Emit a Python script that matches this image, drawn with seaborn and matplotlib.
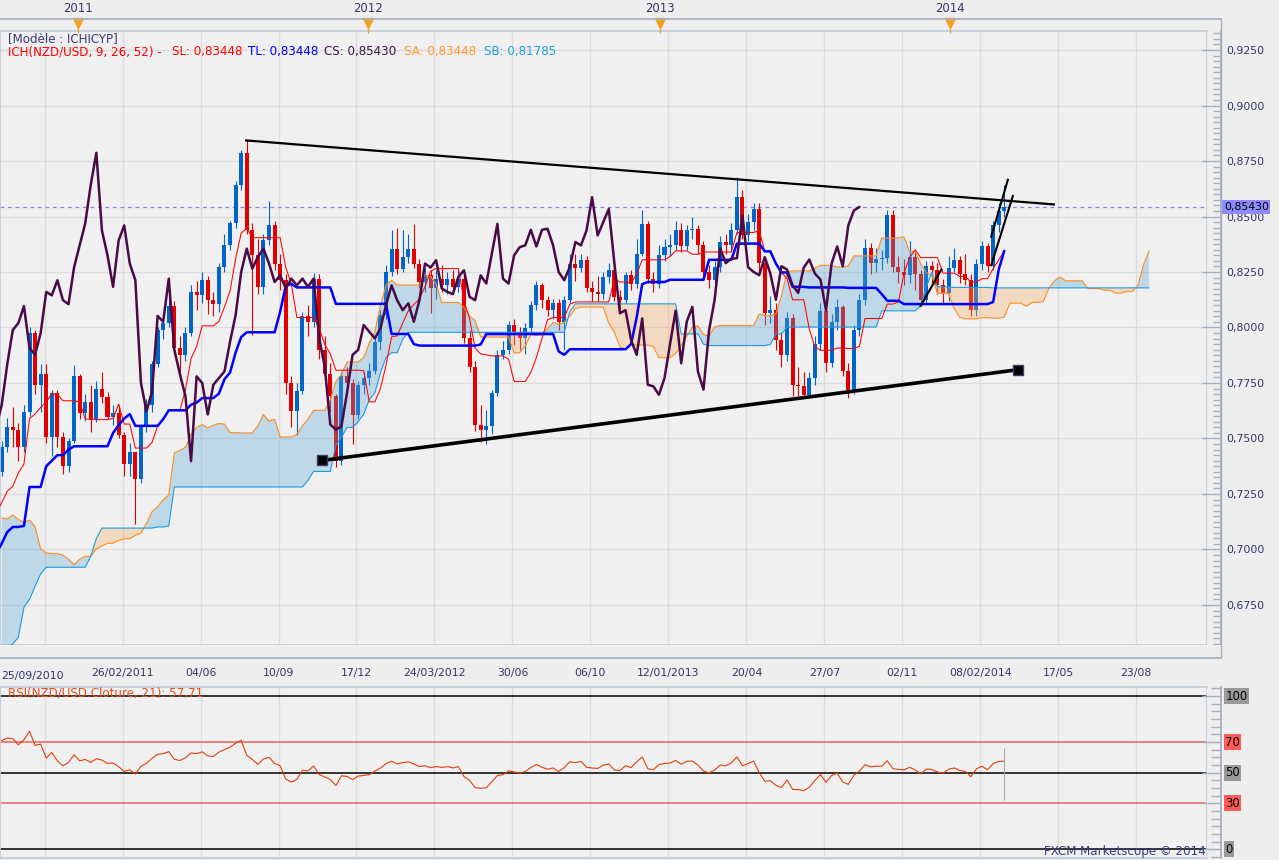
import numpy as np
import pandas as pd
import matplotlib
matplotlib.use("Agg")
import matplotlib.pyplot as plt
import seaborn as sns
from matplotlib.lines import Line2D
from matplotlib.ticker import MultipleLocator, FuncFormatter
from matplotlib.transforms import blended_transform_factory

# weekly NZD/USD candles, the first one is the week of 25/09/2010
close = [
    .7460, .7550, .7540, .7460, .7620, .7975, .7740, .7790, .7505, .7706,
    .7505, .7375, .7487, .7780, .7617, .7666, .7585, .7724, .7688, .7599,
    .7614, .7518, .7383, .7437, .7316, .7550, .7650, .7834, .7989, .8020,
    .8096, .7908, .7877, .7975, .8160, .8145, .8213, .8123, .8105, .8271,
    .8370, .8469, .8644, .8787, .8437, .8325, .8183, .8392, .8460, .8288,
    .8213, .7751, .7622, .7712, .8052, .8026, .8220, .7900, .7790, .7690,
    .7398, .7780, .7750, .7608, .7742, .7772, .7802, .7936, .8056, .8250,
    .8355, .8265, .8318, .8355, .8288, .8205, .8235, .8176, .8220, .8190,
    .8220, .8183, .8220, .7951, .7824, .7563, .7540, .7555, .7705, .7877,
    .7899, .8011, .7981, .7951, .7996, .8101, .8190, .8123, .8078, .8109,
    .8026, .8123, .8288, .8270, .8303, .8176, .8161, .8150, .8228, .8258,
    .8138, .8123, .8235, .8198, .8333, .8467, .8220, .8198, .8325, .8362,
    .8370, .8440, .8365, .8440, .8445, .8370, .8250, .8213, .8273, .8385,
    .8370, .8437, .8587, .8415, .8475, .8534, .8290, .8064, .8078, .7944,
    .7877, .8041, .7742, .7735, .7697, .7772, .7926, .8076, .7839, .8027,
    .8093, .7802, .7720, .7987, .8125, .8356, .8290, .8310, .8312, .8505,
    .8272, .8250, .8236, .8317, .8243, .8125, .8276, .8261, .8190, .8156,
    .8270, .8306, .8243, .8216, .8078, .8288, .8365, .8276, .8460, .8527,
    .8543,
]
high = [
    .7490, .7594, .7640, .7570, .7650, .8000, .7990, .7835, .7835, .7720,
    .7720, .7530, .7500, .7830, .7790, .7700, .7740, .7760, .7800, .7710,
    .7650, .7650, .7530, .7480, .7440, .7560, .7680, .7850, .8000, .8060,
    .8140, .8120, .7960, .8000, .8190, .8210, .8250, .8230, .8160, .8290,
    .8420, .8480, .8660, .8800, .8843, .8470, .8400, .8420, .8572, .8480,
    .8330, .8240, .7780, .7750, .8070, .8100, .8245, .8240, .7960, .7840,
    .7700, .7800, .7820, .7770, .7760, .7800, .7840, .7960, .8080, .8280,
    .8440, .8450, .8440, .8420, .8467, .8310, .8270, .8260, .8260, .8280,
    .8250, .8260, .8270, .8240, .7990, .7850, .7650, .7630, .7720, .7900,
    .7940, .8030, .8040, .8000, .8020, .8120, .8210, .8200, .8140, .8130,
    .8130, .8140, .8330, .8330, .8330, .8320, .8210, .8230, .8250, .8290,
    .8270, .8170, .8250, .8260, .8400, .8530, .8480, .8250, .8370, .8400,
    .8420, .8480, .8470, .8460, .8500, .8460, .8390, .8280, .8300, .8410,
    .8420, .8470, .8676, .8620, .8510, .8560, .8560, .8300, .8140, .8110,
    .7980, .8070, .8060, .7820, .7800, .7800, .7960, .8110, .8090, .8060,
    .8130, .8100, .7840, .8010, .8150, .8400, .8380, .8360, .8350, .8530,
    .8530, .8320, .8310, .8390, .8340, .8260, .8300, .8300, .8290, .8220,
    .8320, .8360, .8320, .8330, .8240, .8310, .8390, .8380, .8480, .8560,
    .8640,
]
low = [
    .7330, .7437, .7460, .7400, .7440, .7600, .7700, .7620, .7480, .7422,
    .7460, .7340, .7350, .7480, .7590, .7580, .7530, .7575, .7660, .7590,
    .7560, .7500, .7330, .7330, .7114, .7300, .7530, .7620, .7820, .7950,
    .8000, .7880, .7765, .7850, .7960, .8080, .8110, .8060, .8050, .8070,
    .8250, .8350, .8450, .8620, .8420, .7966, .8150, .8151, .8370, .8260,
    .8170, .7700, .7550, .7518, .7700, .7960, .8000, .7860, .7760, .7620,
    .7370, .7380, .7700, .7475, .7590, .7700, .7740, .7790, .7900, .8040,
    .8230, .8240, .8250, .8290, .8270, .8180, .8160, .8064, .8130, .8160,
    .8150, .8150, .8160, .7930, .7800, .7533, .7482, .7474, .7520, .7690,
    .7860, .7880, .7920, .7900, .7880, .7980, .8080, .8090, .8050, .8040,
    .7990, .7900, .8110, .8210, .8250, .8160, .8120, .8120, .8130, .8200,
    .8120, .8080, .8110, .8170, .8180, .8320, .8200, .8160, .8180, .8300,
    .8320, .8350, .8340, .8350, .8400, .8330, .8220, .8180, .8200, .8250,
    .8330, .8350, .8420, .8400, .8390, .8440, .8250, .8010, .8020, .7900,
    .7820, .7850, .7690, .7690, .7690, .7685, .7740, .7900, .7800, .7820,
    .7990, .7780, .7681, .7700, .7960, .8100, .8240, .8250, .8260, .8290,
    .8250, .8200, .8190, .8200, .8170, .8100, .8110, .8200, .8150, .8110,
    .8120, .8250, .8200, .8190, .8050, .8050, .8260, .8250, .8260, .8430,
    .8500,
]

# the 77 weeks before the first candle, only used to warm up the ichimoku lines
pre_high = [
    .575, .580, .575, .590, .600, .615, .625, .640, .650, .655,
    .660, .652, .650, .648, .645, .640, .655, .668, .672, .685,
    .690, .692, .698, .705, .712, .720, .725, .745, .763, .755,
    .745, .742, .735, .745, .746, .742, .735, .730, .725, .730,
    .738, .745, .740, .730, .712, .708, .705, .702, .712, .718,
    .722, .720, .728, .735, .732, .725, .715, .705, .695, .705,
    .700, .705, .710, .708, .712, .725, .730, .735, .732, .728,
    .722, .715, .722, .728, .735, .738, .740,
]
pre_low = [
    .545, .548, .552, .558, .585, .592, .604, .615, .628, .632,
    .635, .625, .628, .624, .622, .621, .631, .647, .658, .662,
    .668, .670, .675, .682, .690, .698, .705, .715, .735, .725,
    .720, .712, .705, .718, .722, .715, .702, .700, .700, .705,
    .715, .725, .715, .700, .690, .685, .682, .686, .690, .698,
    .702, .705, .710, .712, .708, .700, .690, .680, .660, .6563,
    .675, .680, .690, .685, .690, .700, .710, .715, .712, .705,
    .700, .693, .705, .712, .718, .722, .728,
]
# closes of the 26 weeks before the first candle (rsi warm-up)
pre_close = [
    .7150, .7200, .7270, .7150, .7050, .6950, .6850, .6700, .6900, .6830,
    .6950, .6980, .6920, .7050, .7200, .7250, .7270, .7150, .7080, .7020,
    .7100, .7180, .7250, .7300, .7330, .7350,
]

date_weeks = [8, 22, 36, 50, 64, 78, 92, 106, 120, 134, 148, 162, 176, 190, 204]
date_labels = ['', '26/02/2011', '04/06', '10/09', '17/12', '24/03/2012', '30/06',
               '06/10', '12/01/2013', '20/04', '27/07', '02/11', '08/02/2014',
               '17/05', '23/08']
year_weeks = [14.0, 66.14, 118.43, 170.57]
year_labels = ['2011', '2012', '2013', '2014']
price_levels = [0.675, 0.700, 0.725, 0.750, 0.775, 0.800, 0.825, 0.850,
                0.875, 0.900, 0.925]
rsi_levels = [100, 70, 50, 30, 0]

# hand drawn lines on the chart: (week, price) -> (week, price)
trend_lines = [
    ((44.0, 0.8843), (189.4, 0.8554)),
    ((57.8, 0.7401), (182.8, 0.7810)),
    ((165.2, 0.8093), (169.1, 0.8265)),
    ((177.9, 0.8404), (181.0, 0.8670)),
    ((177.9, 0.8276), (181.9, 0.8597)),
]
trend_widths = [1.6, 2.6, 1.5, 1.5, 1.5]

sns.set_theme(style="white", rc={"axes.facecolor": "#F0F0F0",
                                 "figure.facecolor": "#EEEEEE"})
plt.rcParams['font.family'] = ['DejaVu Sans']

W, H = 1279, 860
WPX = 5.57                 # pixels per week
OFF = 0.3                  # candle position inside its week
Y_TOP, Y_BOT = 0.93356, 0.65698
R_TOP, R_BOT = 105.9, -5.7
UP, DOWN = '#0064C8', '#E00000'
FRAME = '#C3CCD8'
TICK = '#A4AFBF'
TXT = '#33336B'
GRID = '#DCDCDC'
BG = '#EEEEEE'
HEAD = 8.6

fig = plt.figure(figsize=(W / 100, H / 100), dpi=100)


def box(x0, y0, x1, y1):
    return [x0 / W, 1 - y1 / H, (x1 - x0) / W, (y1 - y0) / H]


def ptext(x, y, s, **kw):
    return fig.text(x / W, 1 - y / H, s, va='center', **kw)


def line(axis, x, y, color, lw, z):
    d = pd.DataFrame({'x': x, 'y': y}).dropna()
    sns.lineplot(data=d, x='x', y='y', ax=axis, color=color, linewidth=lw,
                 zorder=z, estimator=None, sort=False, legend=False)
    axis.set_xlabel('')
    axis.set_ylabel('')


n = len(close)
n_pre = len(pre_high)
opens = [pre_close[-1]] + close[:-1]
df = pd.DataFrame({'x': np.arange(n) + OFF, 'open': opens, 'high': high,
                   'low': low, 'close': close})

# ichimoku 9 / 26 / 52
hi = pd.Series(pre_high + high)
lo = pd.Series(pre_low + low)
wk = np.arange(-n_pre, n) + OFF
tenkan = (hi.rolling(9).max() + lo.rolling(9).min()) / 2
kijun = (hi.rolling(26).max() + lo.rolling(26).min()) / 2
span_a = ((tenkan + kijun) / 2).values
span_b = ((hi.rolling(52).max() + lo.rolling(52).min()) / 2).values
lead_x = wk + 26
ok = ~np.isnan(span_a) & ~np.isnan(span_b)

# rsi 21 (wilder)
c_all = pd.Series(pre_close + close)
d = c_all.diff()
gain = d.clip(lower=0).ewm(alpha=1 / 21, adjust=False).mean()
loss = (-d.clip(upper=0)).ewm(alpha=1 / 21, adjust=False).mean()
rsi = (100 - 100 / (1 + gain / loss)).iloc[len(pre_close):].values

# ---------------- main price panel
ax = fig.add_axes(box(0, 31, 1207, 645))
ax.set_xticks(date_weeks)
ax.set_yticks(price_levels)
ax.tick_params(length=0, labelbottom=False, labelleft=False)
ax.grid(True, color=GRID, lw=1)
ax.set_axisbelow(True)
for s in ax.spines.values():
    s.set_color(FRAME)

ax.axhline(close[-1], color='#8080FF', lw=0.9, ls=(0, (3, 3)), zorder=1.5)

up = df['close'] >= df['open']
cols = np.where(up, UP, DOWN)
ax.vlines(df['x'], df['low'], df['high'], colors=cols, lw=0.8, zorder=2)
body = (df['close'] - df['open']).abs().clip(lower=0.00035)
ax.bar(df['x'], body, bottom=df[['open', 'close']].min(axis=1), width=0.72,
       color=cols, linewidth=0, zorder=2.1)

lx, la, lb = lead_x[ok], span_a[ok], span_b[ok]
ax.fill_between(lx, la, lb, where=la >= lb, interpolate=True,
                color='#5AA8D8', alpha=0.33, lw=0, zorder=3)
ax.fill_between(lx, la, lb, where=la < lb, interpolate=True,
                color='#F7AD64', alpha=0.33, lw=0, zorder=3)
line(ax, lx, la, '#FF8C1E', 0.8, 3.5)
line(ax, lx, lb, '#1E9BE0', 0.8, 3.5)
keep = wk > -1
line(ax, wk[keep], tenkan.values[keep], '#FF0000', 0.75, 4)
line(ax, wk[keep], kijun.values[keep], '#0000FF', 1.8, 4.5)
line(ax, np.arange(n) + OFF - 26, close, '#4A0A48', 1.8, 5)

for ((x0, y0), (x1, y1)), w in zip(trend_lines, trend_widths):
    ax.plot([x0, x1], [y0, y1], color='black', lw=w, solid_capstyle='butt', zorder=6)
(sx0, sy0), (sx1, sy1) = trend_lines[1]
ax.plot([sx0, sx1], [sy0, sy1], 's', ms=7.5, mfc='black', mec='#3C3C64', mew=1, zorder=7)

ax.set_xlim(0, 1207 / WPX)
ax.set_ylim(Y_BOT, Y_TOP)

ptext(8, 39, '[Modèle : ICHICYP]', color='#3A3A78', fontsize=HEAD)
ptext(8, 52, 'ICH(NZD/USD, 9, 26, 52) -', color='#FF0000', fontsize=HEAD)
ptext(172, 52, 'SL: 0,83448', color='#FF0000', fontsize=HEAD)
ptext(248, 52, 'TL: 0,83448', color='#0000FF', fontsize=HEAD)
ptext(324, 52, 'CS: 0,85430', color='#3C1446', fontsize=HEAD)
ptext(404, 52, 'SA: 0,83448', color='#FF9933', fontsize=HEAD)
ptext(484, 52, 'SB: 0,81785', color='#1EA0E6', fontsize=HEAD)

# price scale strip
axp = fig.add_axes(box(1207, 31, 1221, 645))
axp.set_facecolor(BG)
axp.set_ylim(Y_BOT, Y_TOP)
axp.set_xticks([])
axp.yaxis.tick_right()
axp.set_yticks(price_levels)
axp.yaxis.set_minor_locator(MultipleLocator(0.0025))
axp.yaxis.set_major_formatter(FuncFormatter(lambda v, p: f'{v:.4f}'.replace('.', ',')))
axp.tick_params(axis='y', which='major', direction='in', length=14, width=1,
                color=TICK, labelsize=7.8, labelcolor=TXT, pad=4)
axp.tick_params(axis='y', which='minor', direction='in', length=6, width=1, color=TICK)
for k, s in axp.spines.items():
    s.set_visible(k == 'right')
    s.set_color(TICK)
tr = blended_transform_factory(axp.transAxes, axp.transData)
axp.text(1.2, close[-1], f'{close[-1]:.5f}'.replace('.', ','), transform=tr,
         fontsize=7.8, va='center', ha='left', color='black', zorder=10,
         bbox=dict(boxstyle='square,pad=0.15', fc='#8C8CFF', ec='none'))

# date strip under the price panel
axd = fig.add_axes(box(0, 645, 1221, 658))
axd.set_facecolor(BG)
axd.set_xlim(0, 1221 / WPX)
axd.set_yticks([])
axd.set_xticks(date_weeks)
axd.set_xticklabels(date_labels)
axd.xaxis.set_minor_locator(MultipleLocator(2))
axd.tick_params(axis='x', which='major', direction='in', length=12, width=1,
                color=TICK, labelsize=7.8, labelcolor=TXT, pad=7)
axd.tick_params(axis='x', which='minor', direction='in', length=5, width=1, color=TICK)
for k, s in axd.spines.items():
    s.set_visible(k == 'bottom')
    s.set_color(TICK)
ptext(1, 676, '25/09/2010', color=TXT, fontsize=7.8, ha='left')

# year strip on top
axt = fig.add_axes(box(0, 0, 1221, 19))
axt.set_facecolor(BG)
axt.set_xlim(0, 1221 / WPX)
axt.set_ylim(0, 1)
axt.set_yticks([])
axt.set_xticks(np.arange(year_weeks[0] - 2 * 52.18 / 8, 1221 / WPX, 52.18 / 8))
axt.tick_params(axis='x', direction='out', length=6, width=1, color=TICK, labelbottom=False)
for k, s in axt.spines.items():
    s.set_visible(k == 'bottom')
    s.set_color(TICK)
for xw, lab in zip(year_weeks, year_labels):
    axt.text(xw, 0.53, lab, ha='center', va='center', fontsize=8.4, color=TXT)
axt.vlines(year_weeks, -0.75, 0, color='#F5A01E', lw=0.8, clip_on=False)
axt.plot(year_weeks, [-0.2] * len(year_weeks), 'v', ms=7, color='#F5A01E', clip_on=False)

fig.add_artist(Line2D([1221 / W] * 2, [1 - 19 / H, 1 - 658 / H], color=TICK, lw=1))

# ---------------- rsi panel
axr = fig.add_axes(box(0, 687, 1207, 858))
axr.set_xticks(date_weeks)
axr.set_yticks([])
axr.tick_params(length=0, labelbottom=False)
axr.grid(True, axis='x', color=GRID, lw=1)
axr.set_axisbelow(True)
for s in axr.spines.values():
    s.set_color(FRAME)
for lvl in rsi_levels:
    axr.axhline(lvl, color='black' if lvl in (0, 50, 100) else '#E86060', lw=1.1, zorder=2)
line(axr, np.arange(n) + OFF, rsi, '#E0400A', 0.8, 3)
axr.vlines(n - 1 + OFF, 32, 66, color='#A8A8A8', lw=0.8, zorder=3)
axr.set_xlim(0, 1207 / WPX)
axr.set_ylim(R_BOT, R_TOP)
ptext(8, 693, 'RSI(NZD/USD.Cloture, 21): 57,71', color='#E8501E', fontsize=HEAD)
ptext(1206, 851, 'FXCM Marketscope © 2014', color='#3C3C78', fontsize=HEAD, ha='right')

axrr = fig.add_axes(box(1207, 687, 1221, 858))
axrr.set_facecolor(BG)
axrr.set_ylim(R_BOT, R_TOP)
axrr.set_xticks([])
axrr.yaxis.tick_right()
axrr.set_yticks(rsi_levels)
axrr.yaxis.set_minor_locator(MultipleLocator(5))
axrr.tick_params(axis='y', which='major', direction='in', length=14, width=1,
                 color=TICK, labelright=False)
axrr.tick_params(axis='y', which='minor', direction='in', length=7, width=1, color=TICK)
for k, s in axrr.spines.items():
    s.set_visible(k == 'right')
    s.set_color(TICK)
trr = blended_transform_factory(axrr.transAxes, axrr.transData)
for lvl in rsi_levels:
    fc = '#999999' if lvl in (0, 50, 100) else '#FF5A5A'
    axrr.text(1.3, lvl, str(lvl), transform=trr, fontsize=8.4, va='center', ha='left',
              color='black', bbox=dict(boxstyle='square,pad=0.12', fc=fc, ec='none'))

fig.savefig('out.png', dpi=100, facecolor=BG)
